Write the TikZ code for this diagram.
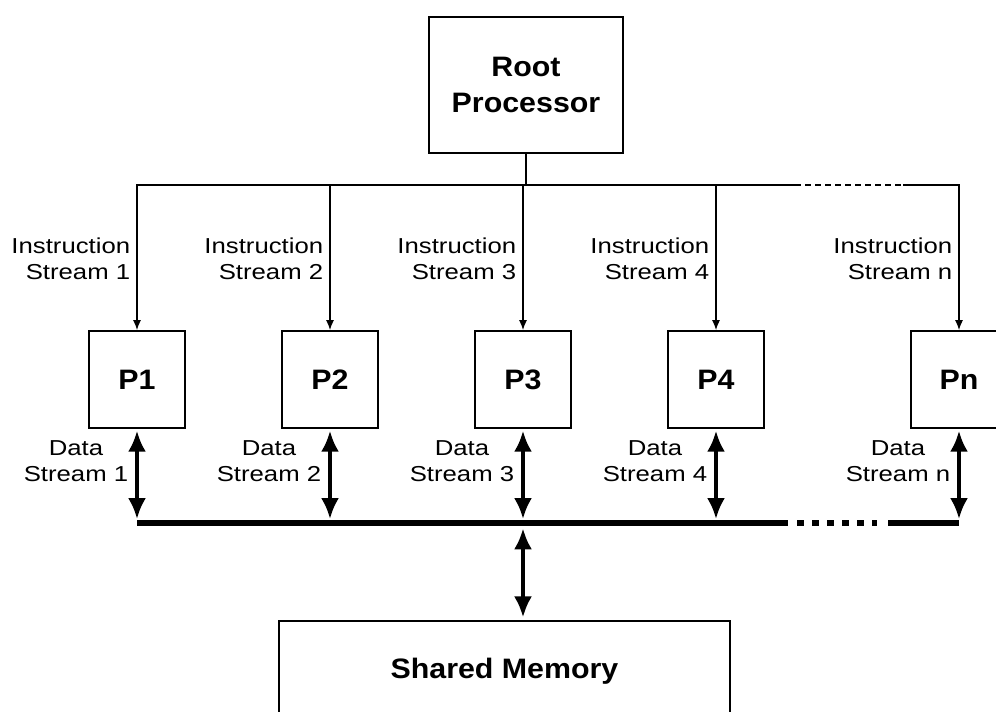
\documentclass[tikz,border=0pt]{standalone}
\usepackage{fontspec}
\setmainfont{Liberation Sans}[FakeStretch=1.19]
\newfontfamily\boxfont{Liberation Sans}[FakeStretch=1.08]
\usetikzlibrary{arrows.meta,calc}
\tikzset{
	procbox/.style={rectangle, draw, line width=1pt, align=center, font=\boxfont\bfseries\fontsize{16}{20.5}\selectfont},
	streamlbl/.style={font=\fontsize{12.3}{14.7}\selectfont, inner sep=0pt},
	instr/.style={line width=0.75pt, -{Latex[length=0.2cm,width=0.16cm]}},
	datastream/.style={line width=2.3pt, {Latex[length=0.42cm,width=0.36cm]}-{Latex[length=0.42cm,width=0.36cm]}, shorten <=1pt, shorten >=2.2pt},
	bus/.style={line width=3.4pt}
}

\begin{document}
\begin{tikzpicture}[node distance=3.86cm]
    \useasboundingbox (0,0) rectangle (19.92,14.22);
    \node (root) [procbox, minimum width=3.88cm, minimum height=2.72cm] at (10.52,12.52) {Root\\Processor};
    \node (p1) [procbox, minimum width=1.92cm, minimum height=1.94cm] at (2.74,6.63) {P1};
    \node (p2) [procbox, minimum width=1.92cm, minimum height=1.94cm, right of=p1] {P2};
    \node (p3) [procbox, minimum width=1.92cm, minimum height=1.94cm, right of=p2] {P3};
    \node (p4) [procbox, minimum width=1.92cm, minimum height=1.94cm, right of=p3] {P4};
    \node (pn) [procbox, minimum width=1.92cm, minimum height=1.94cm, right of=p4, xshift=1cm] {Pn};
    \node (mem) [procbox, minimum width=9.02cm, minimum height=2cm] at (10.09,0.8) {Shared Memory};

    % instruction streams
    \coordinate (hl) at (0,10.52);
    \coordinate (gapa) at (15.9,10.52);
    \coordinate (gapb) at (18.06,10.52);
    \draw [instr] (root.south) -- (root.south |- hl) -| (p1.north);
    \draw [instr] (root.south |- hl) -| (p2.north);
    \draw [instr] (root.south |- hl) -| (p3.north);
    \draw [instr] (root.south |- hl) -| (p4.north);
    \draw [line width=0.75pt] (p4.north |- hl) -- (gapa);
    \draw [line width=0.75pt, dash pattern=on 0.11cm off 0.09cm] (gapa) -- (gapb);
    \draw [instr] (gapb) -| (pn.north);
    \foreach \p/\k in {p1/1, p2/2, p3/3, p4/4, pn/n}
        \node [streamlbl, anchor=east, align=right] at ($(\p.north)+(-0.13,1.42)$) {Instruction\\Stream \k};

    % data streams and bus
    \coordinate (bus) at (0,3.76);
    \coordinate (busa) at (15.76,3.76);
    \coordinate (busb) at (15.94,3.76);
    \coordinate (busc) at (17.54,3.76);
    \coordinate (busd) at (17.76,3.76);
    \draw [bus] (p1.south |- bus) -- (busa);
    \draw [bus, dash pattern=on 0.14cm off 0.16cm] (busb) -- (busc);
    \draw [bus] (busd) -- (pn.south |- bus);
    \foreach \p/\k in {p1/1, p2/2, p3/3, p4/4, pn/n} {
        \draw [datastream] (\p.south) -- (\p.south |- bus);
        \node [streamlbl, anchor=east, align=center] at ($(\p.south)+(-0.17,-0.64)$) {Data\\Stream \k};
    }
    \draw [datastream, shorten <=3pt, shorten >=1.5pt] (p3.south |- bus) -- (p3.south |- mem.north);
\end{tikzpicture}
\end{document}
